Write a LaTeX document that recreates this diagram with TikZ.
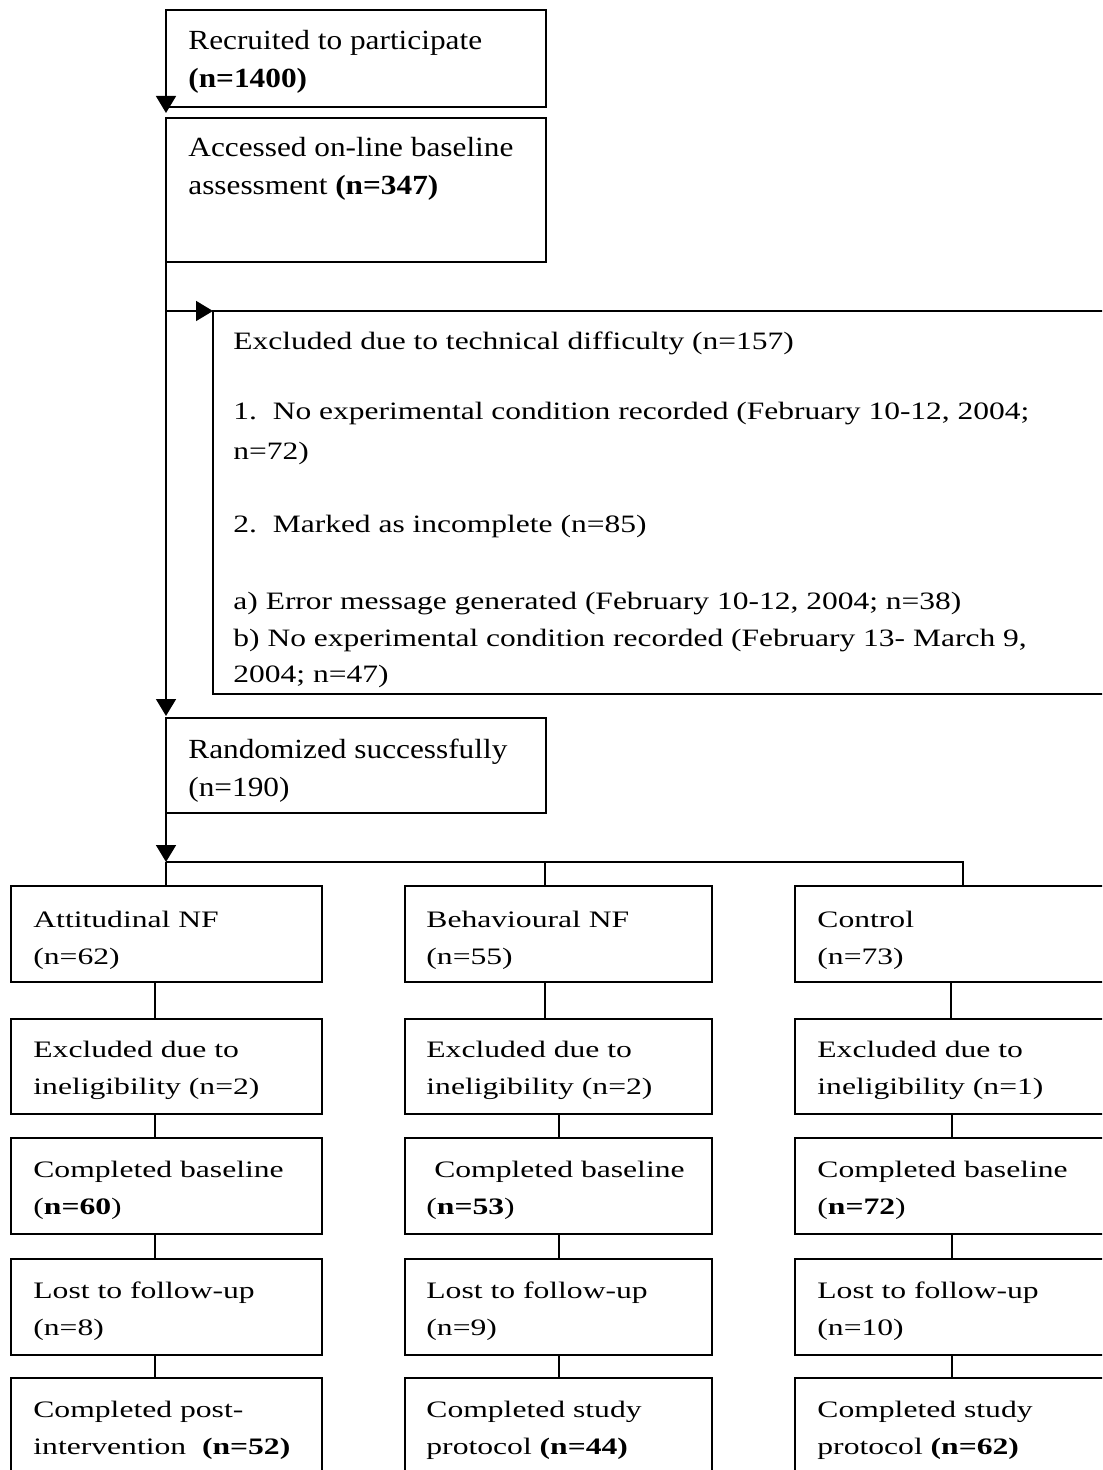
\documentclass[tikz,border=0pt]{standalone}
\usepackage{fontspec}
\setmainfont{Liberation Serif}
\newfontfamily\ftop[FakeStretch=1.13]{Liberation Serif}
\newfontfamily\fmid[FakeStretch=1.26]{Liberation Serif}
\newfontfamily\fbot[FakeStretch=1.34]{Liberation Serif}
\usetikzlibrary{arrows.meta,calc,fit}
\tikzset{
  box/.style={draw, line width=1.2pt, rectangle, inner sep=0pt, outer sep=0pt},
  txt/.style={inner sep=0pt, anchor=base west},
  ttop/.style={txt, font=\ftop\fontsize{13.85}{19}\selectfont},
  tmid/.style={txt, font=\fmid\fontsize{12.5}{19}\selectfont},
  tbot/.style={txt, font=\fbot\fontsize{11.8}{18.8}\selectfont},
  conn/.style={line width=0.8pt},
  arr/.style={conn, -{Triangle[length=8.5pt,width=10pt]}},
}
\newcommand{\tl}[1]{\begin{tabular}[t]{@{}l@{}}#1\end{tabular}}
\begin{document}
\begin{tikzpicture}[x=0.5pt,y=-0.5pt]
\clip (0,0) rectangle (1102,1470);
\fill[white] (0,0) rectangle (1102,1470);

% top column
\node[box, fit={(166,10) (546,107)}] (b1) {};
\node[ttop] (t1) at (188,50) {\tl{Recruited to participate\\ \textbf{(n=1400)}}};
\node[box, fit={(166,118) (546,262)}] (b2) {};
\node[ttop] (t2) at (188,157) {\tl{Accessed on-line baseline\\ assessment \textbf{(n=347)}}};
\node[box, fit={(213,311) (1130,694)}] (ex) {};
\node[tmid] (tex) at (233,350) {\tl{Excluded due to technical difficulty (n=157)\\[16pt]
1.\ \ No experimental condition recorded (February 10-12, 2004;\\[1pt]
n=72)\\[17.5pt]
2.\ \ Marked as incomplete (n=85)\\[19.5pt]
a) Error message generated (February 10-12, 2004; n=38)\\[-0.5pt]
b) No experimental condition recorded (February 13- March 9,\\[-1pt]
2004; n=47)}};
\node[box, fit={(166,718) (546,813)}] (b3) {};
\node[ttop] (t3) at (188,758) {\tl{Randomized successfully\\ (n=190)}};

% arrows of the top column
\draw[arr, shorten >=2.5pt] (b1.south west) -- (b2.north west);
\draw[arr] (b2.south west) |- (ex.north west);
\draw[arr, shorten >=1pt] (b2.south west) -- (b3.north west);
\coordinate (sp) at (166,862);
\coordinate (spM) at (545,862);
\coordinate (spR) at (963,862);
\draw[arr] (b3.south west) -- (sp);

% row 1
\node[box, fit={(11,886) (322,982)}] (a1) {};
\node[tbot] (ta1) at (33,927) {\tl{Attitudinal NF\\ (n=62)}};
\node[box, fit={(405,886) (712,982)}] (m1) {};
\node[tbot] (tm1) at (426,927) {\tl{Behavioural NF\\ (n=55)}};
\node[box, fit={(795,886) (1130,982)}] (c1) {};
\node[tbot] (tc1) at (817,927) {\tl{Control\\ (n=73)}};

\draw[conn] (sp) -- (sp |- a1.north);
\draw[conn] (sp) -- (spR) -- (spR |- c1.north);
\draw[conn] (spM) -- (spM |- m1.north);

% row 2
\node[box, fit={(11,1019) (322,1114)}] (a2) {};
\node[tbot] (ta2) at (33,1057) {\tl{Excluded due to\\ ineligibility (n=2)}};
\node[box, fit={(405,1019) (712,1114)}] (m2) {};
\node[tbot] (tm2) at (426,1057) {\tl{Excluded due to\\ ineligibility (n=2)}};
\node[box, fit={(795,1019) (1130,1114)}] (c2) {};
\node[tbot] (tc2) at (817,1057) {\tl{Excluded due to\\ ineligibility (n=1)}};

% row 3
\node[box, fit={(11,1138) (322,1234)}] (a3) {};
\node[tbot] (ta3) at (33,1177) {\tl{Completed baseline\\ (\textbf{n=60})}};
\node[box, fit={(405,1138) (712,1234)}] (m3) {};
\node[tbot] (tm3) at (426,1177) {\tl{\ Completed baseline\\ (\textbf{n=53})}};
\node[box, fit={(795,1138) (1130,1234)}] (c3) {};
\node[tbot] (tc3) at (817,1177) {\tl{Completed baseline\\ (\textbf{n=72})}};

% row 4
\node[box, fit={(11,1259) (322,1355)}] (a4) {};
\node[tbot] (ta4) at (33,1298) {\tl{Lost to follow-up\\ (n=8)}};
\node[box, fit={(405,1259) (712,1355)}] (m4) {};
\node[tbot] (tm4) at (426,1298) {\tl{Lost to follow-up\\ (n=9)}};
\node[box, fit={(795,1259) (1130,1355)}] (c4) {};
\node[tbot] (tc4) at (817,1298) {\tl{Lost to follow-up\\ (n=10)}};

% row 5
\node[box, fit={(11,1378) (322,1490)}] (a5) {};
\node[tbot] (ta5) at (33,1417) {\tl{Completed post-\\ intervention\ \ \textbf{(n=52)}}};
\node[box, fit={(405,1378) (712,1490)}] (m5) {};
\node[tbot] (tm5) at (426,1417) {\tl{Completed study\\ protocol \textbf{(n=44)}}};
\node[box, fit={(795,1378) (1130,1490)}] (c5) {};
\node[tbot] (tc5) at (817,1417) {\tl{Completed study\\ protocol \textbf{(n=62)}}};

% column connectors
\coordinate (cL) at (155,0);
\coordinate (cM1) at (545,0);
\coordinate (cM) at (559,0);
\coordinate (cR1) at (951,0);
\coordinate (cR) at (952,0);
\draw[conn] (a1.south -| cL) -- (a2.north -| cL);
\draw[conn] (a2.south -| cL) -- (a3.north -| cL);
\draw[conn] (a3.south -| cL) -- (a4.north -| cL);
\draw[conn] (a4.south -| cL) -- (a5.north -| cL);
\draw[conn] (m1.south -| cM1) -- (m2.north -| cM1);
\draw[conn] (m2.south -| cM) -- (m3.north -| cM);
\draw[conn] (m3.south -| cM) -- (m4.north -| cM);
\draw[conn] (m4.south -| cM) -- (m5.north -| cM);
\draw[conn] (c1.south -| cR1) -- (c2.north -| cR1);
\draw[conn] (c2.south -| cR) -- (c3.north -| cR);
\draw[conn] (c3.south -| cR) -- (c4.north -| cR);
\draw[conn] (c4.south -| cR) -- (c5.north -| cR);
\end{tikzpicture}
\end{document}
